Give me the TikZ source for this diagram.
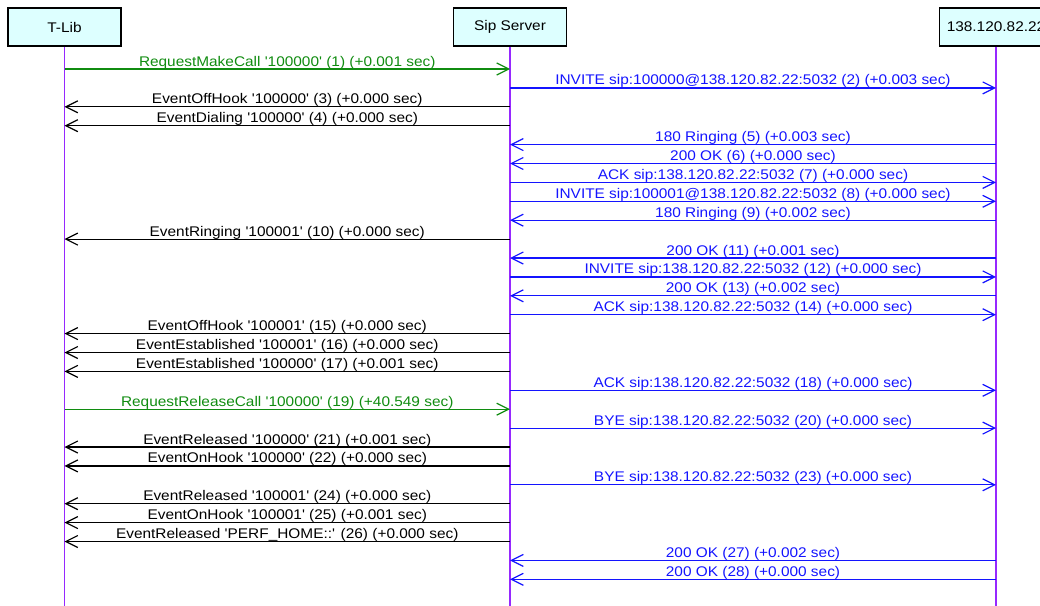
\documentclass[tikz,border=0pt]{standalone}
\usepackage{fontspec}
\setmainfont{Liberation Sans}[Ligatures=TeXOff, FakeStretch=1.1]
\usetikzlibrary{arrows.meta}
\definecolor{life}{RGB}{150,40,255}
\definecolor{hdrfill}{RGB}{221,255,255}
\definecolor{grn}{RGB}{16,140,16}
\definecolor{blu}{RGB}{20,20,255}
\definecolor{blk}{RGB}{0,0,0}
\tikzset{
  hdr/.style={draw=black, line width=1.4pt, fill=hdrfill, minimum width=113pt, minimum height=38pt, inner sep=0pt, font=\fontsize{14}{16}\selectfont},
  lifeline/.style={draw=life, line width=1.6pt},
  msg/.style={line width=1.2pt, -{Straight Barb[length=12pt,width=12pt,line width=1.2pt]}},
  lbl/.style={anchor=base, yshift=3pt, inner sep=0pt, font=\fontsize{14}{16}\selectfont},
}
\begin{document}
\begin{tikzpicture}[x=1pt,y=-1pt]
\useasboundingbox (0,0) rectangle (1040,605);
\clip (0,0) rectangle (1040,605);
\node[hdr] (tlib) at (64.5,27) {T-Lib};
\node[hdr] (sip) at (510,27) {Sip Server};
\node[hdr] (ip) at (996,27) {138.120.82.22};
\coordinate (tlibend) at (tlib.south |- 0,610);
\coordinate (sipend) at (sip.south |- 0,610);
\coordinate (ipend) at (ip.south |- 0,610);
\draw[lifeline] (tlib.south) -- (tlibend);
\draw[lifeline] (sip.south) -- (sipend);
\draw[lifeline] (ip.south) -- (ipend);
\foreach \n/\a/\b/\c/\t in {
 1/tlib/sip/grn/{RequestMakeCall '100000' (1) (+0.001 sec)},
 2/sip/ip/blu/{INVITE sip:100000@138.120.82.22:5032 (2) (+0.003 sec)},
 3/sip/tlib/blk/{EventOffHook '100000' (3) (+0.000 sec)},
 4/sip/tlib/blk/{EventDialing '100000' (4) (+0.000 sec)},
 5/ip/sip/blu/{180 Ringing (5) (+0.003 sec)},
 6/ip/sip/blu/{200 OK (6) (+0.000 sec)},
 7/sip/ip/blu/{ACK sip:138.120.82.22:5032 (7) (+0.000 sec)},
 8/sip/ip/blu/{INVITE sip:100001@138.120.82.22:5032 (8) (+0.000 sec)},
 9/ip/sip/blu/{180 Ringing (9) (+0.002 sec)},
 10/sip/tlib/blk/{EventRinging '100001' (10) (+0.000 sec)},
 11/ip/sip/blu/{200 OK (11) (+0.001 sec)},
 12/sip/ip/blu/{INVITE sip:138.120.82.22:5032 (12) (+0.000 sec)},
 13/ip/sip/blu/{200 OK (13) (+0.002 sec)},
 14/sip/ip/blu/{ACK sip:138.120.82.22:5032 (14) (+0.000 sec)},
 15/sip/tlib/blk/{EventOffHook '100001' (15) (+0.000 sec)},
 16/sip/tlib/blk/{EventEstablished '100001' (16) (+0.000 sec)},
 17/sip/tlib/blk/{EventEstablished '100000' (17) (+0.001 sec)},
 18/sip/ip/blu/{ACK sip:138.120.82.22:5032 (18) (+0.000 sec)},
 19/tlib/sip/grn/{RequestReleaseCall '100000' (19) (+40.549 sec)},
 20/sip/ip/blu/{BYE sip:138.120.82.22:5032 (20) (+0.000 sec)},
 21/sip/tlib/blk/{EventReleased '100000' (21) (+0.001 sec)},
 22/sip/tlib/blk/{EventOnHook '100000' (22) (+0.000 sec)},
 23/sip/ip/blu/{BYE sip:138.120.82.22:5032 (23) (+0.000 sec)},
 24/sip/tlib/blk/{EventReleased '100001' (24) (+0.000 sec)},
 25/sip/tlib/blk/{EventOnHook '100001' (25) (+0.001 sec)},
 26/sip/tlib/blk/{EventReleased 'PERF\_HOME::' (26) (+0.000 sec)},
 27/ip/sip/blu/{200 OK (27) (+0.002 sec)},
 28/ip/sip/blu/{200 OK (28) (+0.000 sec)}}
{
  \pgfmathsetmacro\yy{69+(\n-1)*18.9}
  \coordinate (s\n) at (\a.south |- 0,\yy);
  \coordinate (e\n) at (\b.south |- 0,\yy);
  \draw[msg,draw=\c] (s\n) -- node[lbl,text=\c] {\t} (e\n);
}
\end{tikzpicture}
\end{document}
